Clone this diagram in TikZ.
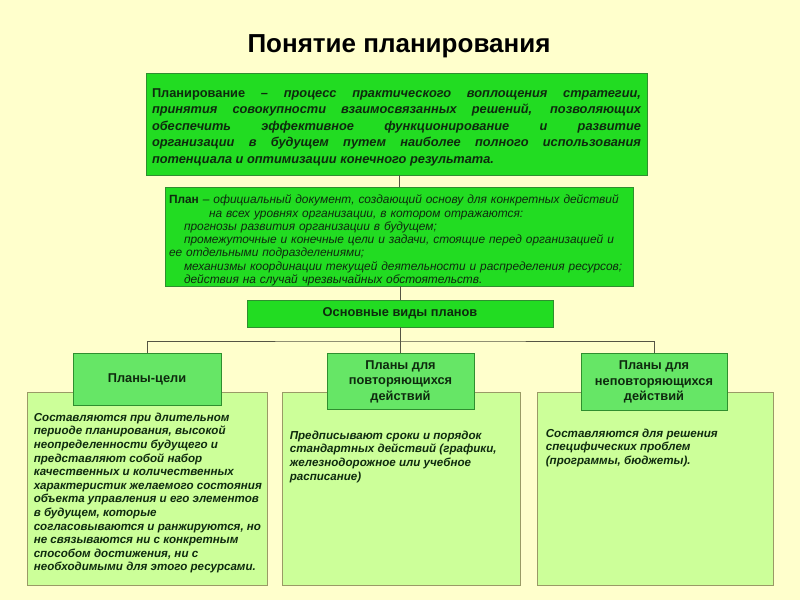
\documentclass[tikz,border=0pt]{standalone}
\usepackage{fontspec}
\setmainfont{Liberation Sans}
\usetikzlibrary{calc}
\definecolor{bgcol}{HTML}{FFFFCC}
\definecolor{brightgreen}{HTML}{22DC22}
\definecolor{headgreen}{HTML}{66E666}
\definecolor{descgreen}{HTML}{CCFF99}
\definecolor{greenedge}{HTML}{2F8F2F}
\definecolor{descedge}{HTML}{9A9A66}
\definecolor{linecol}{HTML}{555544}
\definecolor{darktext}{HTML}{0E2A0E}
\tikzset{
  mainbox/.style={draw=greenedge, line width=0.8pt, fill=brightgreen, inner sep=0pt},
  headbox/.style={draw=greenedge, line width=0.8pt, fill=headgreen, inner sep=0pt, align=center,
    anchor=north, font=\bfseries\fontsize{12.8}{15.5}\selectfont, text=darktext},
  descbox/.style={draw=descedge, line width=0.8pt, fill=descgreen, inner sep=0pt},
  desctext/.style={anchor=north west, inner sep=0pt, align=left, text=darktext,
    font=\bfseries\itshape\fontsize{11.6}{13.6}\selectfont},
  conn/.style={draw=linecol, line width=0.8pt}
}
\begin{document}
\begin{tikzpicture}[x=1pt,y=-1pt]
\fill[bgcol] (0,0) rectangle (800,600);
\useasboundingbox (0,0) rectangle (800,600);

\node[font=\bfseries\fontsize{26}{30}\selectfont] (title) at (399,46) {Понятие планирования};

\node[mainbox, minimum width=501pt, minimum height=102pt] (plan1) at (396.5,124) {};
\node[inner sep=0pt, text width=489pt, align=justify, text=darktext,
  font=\bfseries\itshape\fontsize{12.8}{16.5}\selectfont] (plan1txt) at ($(plan1.center)+(0,3)$)
  {{\upshape Планирование} – процесс практического воплощения стратегии,\linebreak
   принятия совокупности взаимосвязанных решений, позволяющих\linebreak
   обеспечить эффективное функционирование и развитие\linebreak
   организации в будущем путем наиболее полного использования\linebreak
   потенциала и оптимизации конечного результата.};

\node[mainbox, minimum width=468pt, minimum height=99pt] (plan2) at (399,236.5) {};
\node[inner sep=0pt, text width=460pt, align=left, text=darktext,
  font=\itshape\fontsize{11.9}{13.3}\selectfont] (plan2txt) at ($(plan2.center)+(0,4)$)
  {{\bfseries\upshape План} – официальный документ, создающий основу для конкретных действий\\
   \hspace*{40pt}на всех уровнях организации, в котором отражаются:\\
   \hspace*{15pt}прогнозы развития организации в будущем;\\
   \hspace*{15pt}промежуточные и конечные цели и задачи, стоящие перед организацией и\\
   ее отдельными подразделениями;\\
   \hspace*{15pt}механизмы координации текущей деятельности и распределения ресурсов;\\
   \hspace*{15pt}действия на случай чрезвычайных обстоятельств.};

\node[mainbox, minimum width=306pt, minimum height=27pt, text=darktext,
  font=\bfseries\fontsize{12.8}{15}\selectfont] (kinds) at (400,313.5) {Основные виды планов};

\node[descbox, minimum width=240pt, minimum height=193pt] (d1) at (147,488.5) {};
\node[descbox, minimum width=238pt, minimum height=193pt] (d2) at (401,488.5) {};
\node[descbox, minimum width=236pt, minimum height=193pt] (d3) at (655,488.5) {};

\node[desctext] (t1) at ($(d1.north west)+(7,21)$)
  {Составляются при длительном\\
   периоде планирования, высокой\\
   неопределенности будущего и\\
   представляют собой набор\\
   качественных и количественных\\
   характеристик желаемого состояния\\
   объекта управления и его элементов\\
   в будущем, которые\\
   согласовываются и ранжируются, но\\
   не связываются ни с конкретным\\
   способом достижения, ни с\\
   необходимыми для этого ресурсами.};
\node[desctext] (t2) at ($(d2.north west)+(8,39)$)
  {Предписывают сроки и порядок\\
   стандартных действий (графики,\\
   железнодорожное или учебное\\
   расписание)};
\node[desctext] (t3) at ($(d3.north west)+(9,37)$)
  {Составляются для решения\\
   специфических проблем\\
   (программы, бюджеты).};

\node[headbox, minimum width=148pt, minimum height=52pt] (h1) at (147,353) {Планы-цели};
\node[headbox, minimum width=147pt, minimum height=56pt] (h2) at (400.5,353) {Планы для\\повторяющихся\\действий};
\node[headbox, minimum width=146pt, minimum height=57pt] (h3) at (654,353) {Планы для\\неповторяющихся\\действий};

\coordinate (bus) at (400,341);
\draw[conn] (plan2.north) -- (plan2.north |- plan1.south);
\draw[conn] (kinds.north) -- (kinds.north |- plan2.south);
\draw[conn] (kinds.south) -- (bus);
\draw[conn] (h1.north) |- (bus) -| (h3.north);
\draw[conn] (bus) -- (bus -| h2.north) -- (h2.north);
\end{tikzpicture}
\end{document}
